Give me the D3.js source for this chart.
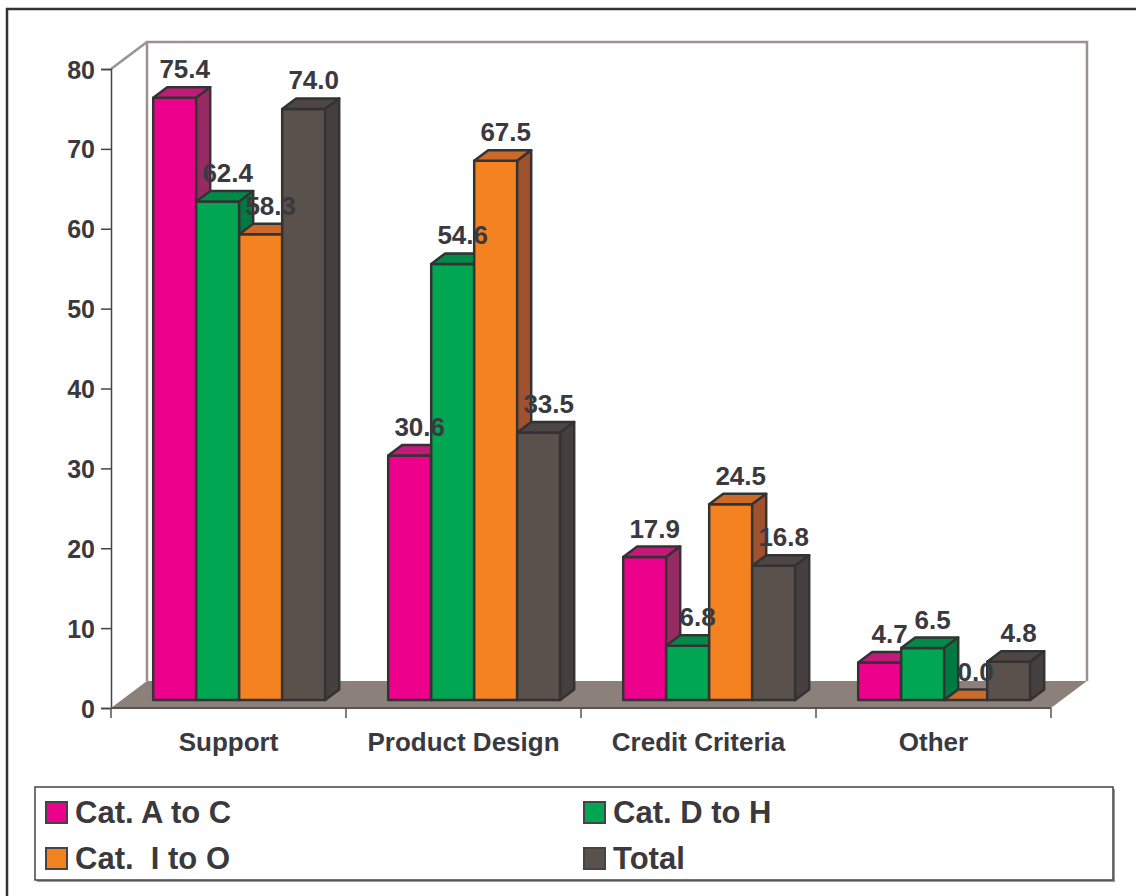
<!DOCTYPE html>
<html>
<head>
<meta charset="utf-8">
<script src="https://cdn.jsdelivr.net/npm/d3@7"></script>
<style>
  html, body { margin: 0; padding: 0; background: #fff; }
  svg { display: block; }
  text { font-family: "Liberation Sans", Arial, sans-serif; font-weight: bold; fill: #39393e; }
</style>
</head>
<body>
<svg id="chart" width="1136" height="896"></svg>
<script>
// Survey shares by category (percent)
const categories = ["Support", "Product Design", "Credit Criteria", "Other"];
const seriesNames = ["Cat. A to C", "Cat. D to H", "Cat.  I to O", "Total"];
const catAtoC = [75.4, 30.6, 17.9, 4.7];
const catDtoH = [62.4, 54.6, 6.8, 6.5];
const catItoO = [58.3, 67.5, 24.5, 0.0];
const total   = [74.0, 33.5, 16.8, 4.8];
const yTicks  = [0, 10, 20, 30, 40, 50, 60, 70, 80];

const seriesValues = [catAtoC, catDtoH, catItoO, total];
const palette = [
  { front: "#EC008C", top: "#C21A7B", side: "#962B63" },
  { front: "#00A651", top: "#008A48", side: "#007A40" },
  { front: "#F58220", top: "#CC6A2A", side: "#A0522F" },
  { front: "#5A504C", top: "#4D4644", side: "#45403F" }
];

const svg = d3.select("#chart");

// plot geometry: front plane + depth offset for the 3D box
const left = 111, right = 1051, bottom = 708, topY = 69;
const DX = 36, DY = 27;           // full floor depth
const OX = 10.7, OY = 8;          // bars' front face depth
const BDX = 14, BDY = 10.5;       // bar depth

const x0 = d3.scaleBand().domain(categories).range([left, right]);
const groupW = 172;
const x1 = d3.scaleBand().domain(seriesNames)
  .range([(x0.bandwidth() - groupW) / 2, (x0.bandwidth() + groupW) / 2]);
const y = d3.scaleLinear().domain([0, 80]).range([bottom, topY]);

// outer frame
svg.append("rect").attr("x", 7).attr("y", 9).attr("width", 1140).attr("height", 900)
  .attr("fill", "none").attr("stroke", "#333").attr("stroke-width", 2.5);

// floor
const floorPts = [[left, bottom], [right, bottom], [right + DX, bottom - DY], [left + DX, bottom - DY]];
svg.append("polygon").attr("points", floorPts.map(p => p.join(",")).join(" "))
  .attr("fill", "#8C807B");

// back wall outline
const wallColor = "#9C918D";
svg.append("path")
  .attr("d", `M${left + DX},${bottom - DY} V${y(80) - DY} H${right + DX} V${bottom - DY}`)
  .attr("fill", "none").attr("stroke", wallColor).attr("stroke-width", 2.5);
svg.append("line")
  .attr("x1", left).attr("y1", y(80)).attr("x2", left + DX).attr("y2", y(80) - DY)
  .attr("stroke", wallColor).attr("stroke-width", 2.5);

// y axis
const yAxis = svg.append("g").attr("transform", `translate(${left},0)`)
  .call(d3.axisLeft(y).tickValues(yTicks).tickSize(10).tickPadding(6).tickFormat(d3.format("d")));
yAxis.select(".domain").attr("stroke", "#444").attr("stroke-width", 1.5);
yAxis.selectAll(".tick line").attr("stroke", "#444").attr("stroke-width", 1.5);
yAxis.selectAll(".tick text").attr("font-size", 25).attr("font-family", null)
  .attr("fill", "#39393e").attr("dy", "0.36em");

// x axis (category separators)
const xAxis = svg.append("g").attr("transform", `translate(0,${bottom})`);
xAxis.append("line").attr("x1", left).attr("x2", right).attr("y1", 0).attr("y2", 0)
  .attr("stroke", "#555").attr("stroke-width", 2);
const edges = categories.map(c => x0(c)).concat([right]);
xAxis.selectAll("line.sep").data(edges).join("line").attr("class", "sep")
  .attr("x1", d => d).attr("x2", d => d).attr("y1", 0).attr("y2", 10)
  .attr("stroke", "#555").attr("stroke-width", 1.5);
xAxis.selectAll("text").data(categories).join("text")
  .attr("x", d => x0(d) + x0.bandwidth() / 2).attr("y", 43)
  .attr("text-anchor", "middle").attr("font-size", 26).text(d => d);

// bars
const bars = [];
categories.forEach((c, ci) => {
  seriesNames.forEach((s, si) => {
    bars.push({ c, s, si, v: seriesValues[si][ci] });
  });
});

const outline = "#333";
const barG = svg.append("g");
bars.forEach(b => {
  const xl = x0(b.c) + x1(b.s) + OX;
  const w = x1.bandwidth();
  const yb = y(0) - OY;
  const yt = y(b.v) - OY;
  const col = palette[b.si];
  const g = barG.append("g");
  g.append("rect").attr("x", xl).attr("y", yt).attr("width", w).attr("height", yb - yt)
    .attr("fill", col.front).attr("stroke", outline).attr("stroke-width", 2.5)
    .attr("stroke-linejoin", "round");
  g.append("polygon")
    .attr("points", [[xl, yt], [xl + w, yt], [xl + w + BDX, yt - BDY], [xl + BDX, yt - BDY]].map(p => p.join(",")).join(" "))
    .attr("fill", col.top).attr("stroke", outline).attr("stroke-width", 2.5).attr("stroke-linejoin", "round");
  g.append("polygon")
    .attr("points", [[xl + w, yt], [xl + w + BDX, yt - BDY], [xl + w + BDX, yb - BDY], [xl + w, yb]].map(p => p.join(",")).join(" "))
    .attr("fill", col.side).attr("stroke", outline).attr("stroke-width", 2.5).attr("stroke-linejoin", "round");
  b.lx = xl + w / 2 + 10;
  b.ly = yt - BDY - 9;
});

// value labels
svg.append("g").selectAll("text").data(bars).join("text")
  .attr("x", d => d.lx).attr("y", d => d.ly)
  .attr("text-anchor", "middle").attr("font-size", 26)
  .text(d => d3.format(".1f")(d.v));

// legend
const lg = svg.append("g");
lg.append("rect").attr("x", 37).attr("y", 789).attr("width", 1078).attr("height", 93)
  .attr("fill", "#999");
lg.append("rect").attr("x", 35).attr("y", 787).attr("width", 1078).attr("height", 93)
  .attr("fill", "#fff").attr("stroke", "#444").attr("stroke-width", 1.5);
const legendPos = [[46, 802], [584, 802], [46, 848], [584, 848]];
seriesNames.forEach((s, i) => {
  const [lx, ly] = legendPos[i];
  lg.append("rect").attr("x", lx).attr("y", ly).attr("width", 21).attr("height", 21)
    .attr("fill", palette[i].front).attr("stroke", "#444").attr("stroke-width", 2);
  lg.append("text").attr("x", lx + 29).attr("y", ly + 21)
    .attr("font-size", 31).style("white-space", "pre").text(s);
});
</script>
</body>
</html>
